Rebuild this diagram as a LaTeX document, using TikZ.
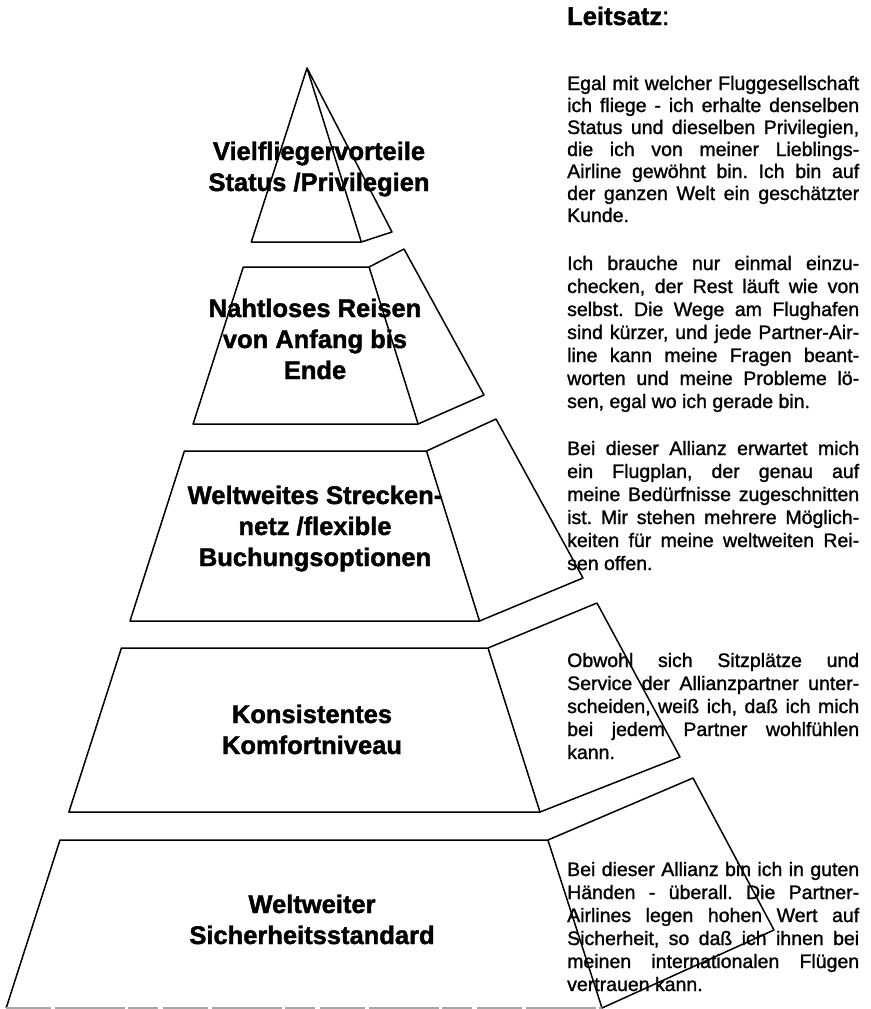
\documentclass[tikz,border=0pt]{standalone}
\usepackage{fontspec}
\setmainfont{Liberation Sans}[RawFeature={embolden=1.3}]
\newfontfamily\titlefont{Liberation Sans}[UprightFont={* Bold}, RawFeature={embolden=1.6}]
\frenchspacing
\begin{document}
\begin{tikzpicture}[x=1pt,y=-1pt,
  edge/.style={line width=1.5pt, line join=round, draw=black},
  title/.style={font=\fontsize{25.5}{31}\titlefont, inner sep=0pt, anchor=base},
  body/.style={font=\fontsize{19.5}{23}\selectfont, inner sep=0pt, anchor=base west}]
\path[use as bounding box] (0,0) rectangle (870,1009);
\newcommand{\justln}[3]{\node[body] (#1) at (567,#2) {\hbox to 292pt{#3}};}
\newcommand{\lastln}[3]{\node[body] (#1) at (567,#2) {#3};}

% tier 1 (tip)
\coordinate (a1) at (307,68);
\coordinate (l1) at (251.3,242);
\coordinate (r1) at (361.3,242);
\coordinate (b1) at (392,232);
\draw[edge] (l1) -- (a1) -- (r1) -- cycle;
\draw[edge] (a1) -- (b1) -- (r1);

% tier 2
\coordinate (tl2) at (243.3,267); \coordinate (tr2) at (369.1,267);
\coordinate (br2) at (418.1,424); \coordinate (bl2) at (193.1,424);
\coordinate (bt2) at (404,249);   \coordinate (bb2) at (484,395);
\draw[edge] (tl2) -- (tr2) -- (br2) -- (bl2) -- cycle;
\draw[edge] (tr2) -- (bt2) -- (bb2) -- (br2);

% tier 3
\coordinate (tl3) at (184.4,451); \coordinate (tr3) at (426.5,451);
\coordinate (br3) at (479.5,621); \coordinate (bl3) at (130.0,621);
\coordinate (bt3) at (496,419);   \coordinate (bb3) at (583,578);
\draw[edge] (tl3) -- (tr3) -- (br3) -- (bl3) -- cycle;
\draw[edge] (tr3) -- (bt3) -- (bb3) -- (br3);

% tier 4
\coordinate (tl4) at (121.4,648); \coordinate (tr4) at (488,648);
\coordinate (br4) at (540,812); \coordinate (bl4) at (68.9,812);
\coordinate (bt4) at (597,603);   \coordinate (bb4) at (680,757);
\draw[edge] (tl4) -- (tr4) -- (br4) -- (bl4) -- cycle;
\draw[edge] (tr4) -- (bt4) -- (bb4) -- (br4);

% tier 5
\coordinate (tl5) at (60,840);   \coordinate (tr5) at (547.9,840);
\coordinate (br5) at (602,1008); \coordinate (bl5) at (6.2,1008);
\coordinate (bt5) at (693,778);  \coordinate (bb5) at (774,930);
\draw[edge] (bl5) -- (tl5) -- (tr5) -- (br5);
\draw[line width=1.2pt, draw=black!35, dash pattern=on 45pt off 4pt on 70pt off 3pt on 30pt off 5pt] (bl5) -- (br5);
\draw[edge] (tr5) -- (bt5) -- (bb5) -- (br5);

% tier labels
\node[title] (lab1a) at (319,160) {Vielfliegervorteile};
\node[title] (lab1b) at (319,191) {Status /Privilegien};
\node[title] (lab2a) at (315,317) {Nahtloses Reisen};
\node[title] (lab2b) at (315,348) {von Anfang bis};
\node[title] (lab2c) at (315,379) {Ende};
\node[title] (lab3a) at (315,504) {Weltweites Strecken-};
\node[title] (lab3b) at (315,535) {netz /flexible};
\node[title] (lab3c) at (315,566) {Buchungsoptionen};
\node[title] (lab4a) at (312,723) {Konsistentes};
\node[title] (lab4b) at (312,754) {Komfortniveau};
\node[title] (lab5a) at (312,913) {Weltweiter};
\node[title] (lab5b) at (312,944) {Sicherheitsstandard};

% heading
\node[anchor=base west, inner sep=0pt, font=\fontsize{25.5}{30}\selectfont] (head) at (567,25) {{\titlefont Leitsatz}:};

% paragraph 1
\justln{p1a}{90}{Egal mit welcher Fluggesellschaft}
\justln{p1b}{112}{ich fliege - ich erhalte denselben}
\justln{p1c}{134}{Status und dieselben Privilegien,}
\justln{p1d}{156}{die ich von meiner Lieblings-}
\justln{p1e}{178}{Airline gewöhnt bin. Ich bin auf}
\justln{p1f}{200}{der ganzen Welt ein geschätzter}
\lastln{p1g}{222}{Kunde.}
% paragraph 2
\justln{p2a}{270}{Ich brauche nur einmal einzu-}
\justln{p2b}{293}{checken, der Rest läuft wie von}
\justln{p2c}{316}{selbst. Die Wege am Flughafen}
\justln{p2d}{339}{sind kürzer, und jede Partner-Air-}
\justln{p2e}{362}{line kann meine Fragen beant-}
\justln{p2f}{385}{worten und meine Probleme lö-}
\lastln{p2g}{408}{sen, egal wo ich gerade bin.}
% paragraph 3
\justln{p3a}{455}{Bei dieser Allianz erwartet mich}
\justln{p3b}{478}{ein Flugplan, der genau auf}
\justln{p3c}{501}{meine Bedürfnisse zugeschnitten}
\justln{p3d}{524}{ist. Mir stehen mehrere Möglich-}
\justln{p3e}{547}{keiten für meine weltweiten Rei-}
\lastln{p3f}{570}{sen offen.}
% paragraph 4
\justln{p4a}{667}{Obwohl sich Sitzplätze und}
\justln{p4b}{690}{Service der Allianzpartner unter-}
\justln{p4c}{713}{scheiden, weiß ich, daß ich mich}
\justln{p4d}{736}{bei jedem Partner wohlfühlen}
\lastln{p4e}{759}{kann.}
% paragraph 5
\justln{p5a}{876}{Bei dieser Allianz bin ich in guten}
\justln{p5b}{899}{Händen - überall. Die Partner-}
\justln{p5c}{922}{Airlines legen hohen Wert auf}
\justln{p5d}{945}{Sicherheit, so daß ich ihnen bei}
\justln{p5e}{968}{meinen internationalen Flügen}
\lastln{p5f}{991}{vertrauen kann.}
\end{tikzpicture}
\end{document}
